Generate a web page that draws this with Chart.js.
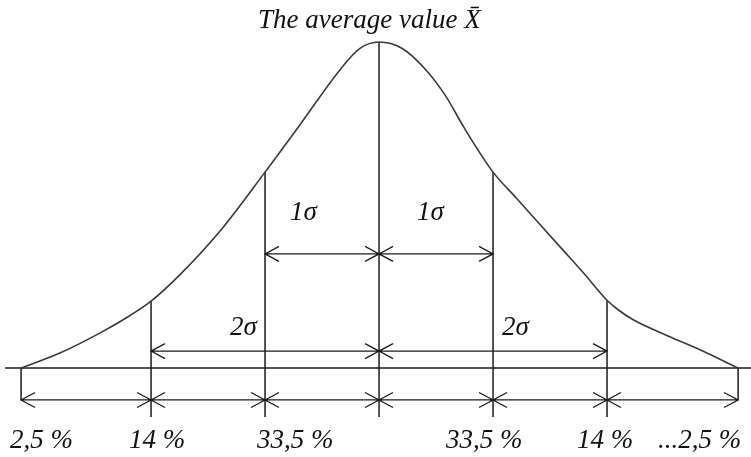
<!DOCTYPE html>
<html lang="en">
<head>
<meta charset="UTF-8">
<title>Normal distribution</title>
<script src="https://cdn.jsdelivr.net/npm/chart.js"></script>
<style>
  body { margin: 0; background: #fff; }
  canvas { display: block; }
</style>
</head>
<body>
<canvas id="bellChart" width="751" height="457"></canvas>
<script>
// curve: x in sigma units from the mean, y as a share of the peak height
var curveX = [-3.14, -2.80, -2.45, -2.18, -2.00, -1.75, -1.40, -1.00, -0.69, -0.34, -0.17, 0,
              0.20, 0.40, 0.58, 0.75, 1.00, 1.20, 1.40, 1.60, 1.80, 2.00, 2.10, 2.23, 2.53, 2.82, 3.15];
var curveY = [0, 0.046, 0.107, 0.162, 0.205, 0.285, 0.418, 0.601, 0.748, 0.916, 0.980, 1,
              0.981, 0.919, 0.837, 0.735, 0.601, 0.523, 0.445, 0.367, 0.289, 0.208, 0.178, 0.148, 0.099, 0.055, 0];

// section boundaries and the share of values in each section
var bounds = [-3.14, -2, -1, 0, 1, 2, 3.15];
var shares = ['2,5 %', '14 %', '33,5 %', '33,5 %', '14 %', '...2,5 %'];
var sigmaLabels = ['1σ', '1σ', '2σ', '2σ'];
var titleText = 'The average value X\u0304';

var ink = '#1c1c1c';
var font = 'italic 27px "Liberation Serif", "Times New Roman", serif';

var datasets = [];

// bell curve
datasets.push({
    data: curveX.map(function (x, i) { return { x: x, y: curveY[i] }; }),
    showLine: true,
    borderColor: '#3a3a3a',
    borderWidth: 1.6,
    pointRadius: 0,
    cubicInterpolationMode: 'monotone'
});

// horizontal axis line
datasets.push({
    data: [{ x: -3.28, y: 0 }, { x: 3.3, y: 0 }],
    showLine: true, borderColor: ink, borderWidth: 1.5, pointRadius: 0
});

// vertical lines at each boundary, from the curve down past the axis
bounds.forEach(function (b, i) {
    var top = curveY[curveX.indexOf(b)];
    var isEnd = (i === 0 || i === bounds.length - 1);
    datasets.push({
        data: [{ x: b, y: top }, { x: b, y: isEnd ? -0.098 : -0.15 }],
        showLine: true, borderColor: ink, borderWidth: 1.5, pointRadius: 0
    });
});

function arrow(ctx, x1, x2, y) {
    var len = 14, half = 7.5;
    ctx.beginPath();
    ctx.moveTo(x1, y); ctx.lineTo(x2, y);
    ctx.moveTo(x1 + len, y - half); ctx.lineTo(x1, y); ctx.lineTo(x1 + len, y + half);
    ctx.moveTo(x2 - len, y - half); ctx.lineTo(x2, y); ctx.lineTo(x2 - len, y + half);
    ctx.stroke();
}

var annotations = {
    id: 'annotations',
    afterDatasetsDraw: function (chart) {
        var ctx = chart.ctx;
        var xs = chart.scales.x, ys = chart.scales.y;
        var px = function (v) { return xs.getPixelForValue(v); };
        var py = function (v) { return ys.getPixelForValue(v); };

        ctx.save();
        ctx.strokeStyle = ink;
        ctx.lineWidth = 1.3;

        // 1 sigma arrows
        arrow(ctx, px(bounds[2]), px(bounds[3]), py(0.35));
        arrow(ctx, px(bounds[3]), px(bounds[4]), py(0.35));
        // 2 sigma arrows
        arrow(ctx, px(bounds[1]), px(bounds[3]), py(0.052));
        arrow(ctx, px(bounds[3]), px(bounds[5]), py(0.052));
        // section arrows under the axis
        for (var i = 0; i < bounds.length - 1; i++) {
            arrow(ctx, px(bounds[i]), px(bounds[i + 1]), py(-0.098));
        }

        ctx.fillStyle = '#111';
        ctx.font = font;
        ctx.textBaseline = 'alphabetic';
        ctx.textAlign = 'left';

        ctx.fillText(titleText, px(0) - 121, py(1.043));

        ctx.fillText(sigmaLabels[0], px(bounds[2]) + 25, py(0.454));
        ctx.fillText(sigmaLabels[1], px(bounds[3]) + 38, py(0.454));
        ctx.fillText(sigmaLabels[2], px(bounds[2]) - 35, py(0.101));
        ctx.fillText(sigmaLabels[3], px(bounds[4]) + 9, py(0.101));

        var offsets = [-11, -22, -8, -47, -30, -80];
        var anchors = [0, 1, 2, 4, 5, 6];
        shares.forEach(function (s, i) {
            ctx.fillText(s, px(bounds[anchors[i]]) + offsets[i], py(-0.245));
        });
        ctx.restore();
    }
};

new Chart(document.getElementById('bellChart').getContext('2d'), {
    type: 'scatter',
    data: { datasets: datasets },
    options: {
        responsive: false,
        animation: false,
        devicePixelRatio: 1,
        layout: { padding: 0 },
        plugins: { legend: { display: false }, tooltip: { enabled: false } },
        scales: {
            x: { type: 'linear', min: -3.325, max: 3.263, display: false },
            y: { type: 'linear', min: -0.273, max: 1.129, display: false }
        }
    },
    plugins: [annotations]
});
</script>
</body>
</html>
